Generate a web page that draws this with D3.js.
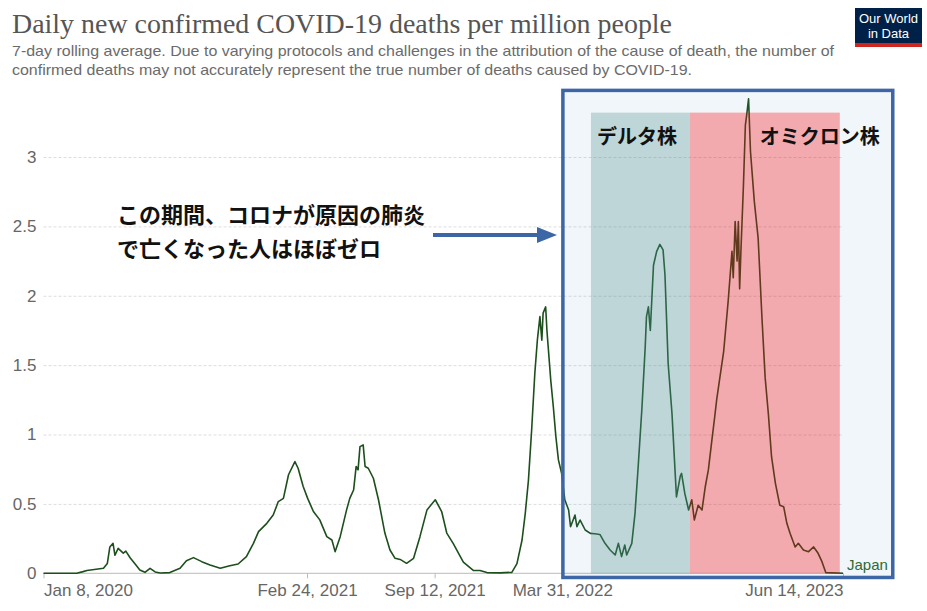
<!DOCTYPE html>
<html>
<head>
<meta charset="utf-8">
<script src="https://cdn.jsdelivr.net/npm/d3@7"></script>
<style>
  body { margin: 0; background: #fff; }
  svg { display: block; }
</style>
</head>
<body>
<div id="chart"></div>
<script>
// daily new confirmed covid-19 deaths per million, japan (7-day average)
const dates = [
  "2020-01-08", "2020-02-29", "2020-03-10", "2020-03-16", "2020-04-11", "2020-04-17",
  "2020-04-21", "2020-04-26", "2020-04-29", "2020-05-04", "2020-05-12", "2020-05-16",
  "2020-05-23", "2020-05-30", "2020-06-07", "2020-06-15", "2020-06-23", "2020-07-01",
  "2020-07-09", "2020-07-24", "2020-08-09", "2020-08-19", "2020-08-30", "2020-09-12",
  "2020-09-25", "2020-10-11", "2020-10-26", "2020-11-08", "2020-11-21", "2020-12-02",
  "2020-12-10", "2020-12-23", "2021-01-02", "2021-01-10", "2021-01-18", "2021-01-26",
  "2021-02-05", "2021-02-10", "2021-02-18", "2021-02-25", "2021-03-06", "2021-03-16",
  "2021-03-27", "2021-04-04", "2021-04-09", "2021-04-17", "2021-04-27", "2021-05-02",
  "2021-05-08", "2021-05-12", "2021-05-15", "2021-05-18", "2021-05-23", "2021-05-26",
  "2021-05-31", "2021-06-08", "2021-06-16", "2021-06-26", "2021-07-04", "2021-07-12",
  "2021-07-20", "2021-07-30", "2021-08-10", "2021-08-20", "2021-08-31", "2021-09-13",
  "2021-09-23", "2021-10-01", "2021-10-11", "2021-10-27", "2021-11-12", "2021-11-22",
  "2021-12-03", "2021-12-24", "2022-01-11", "2022-01-19", "2022-01-27", "2022-02-01",
  "2022-02-06", "2022-02-11", "2022-02-16", "2022-02-20", "2022-02-24", "2022-02-27",
  "2022-03-01", "2022-03-05", "2022-03-07", "2022-03-09", "2022-03-13", "2022-03-17",
  "2022-03-21", "2022-03-25", "2022-03-30", "2022-04-04", "2022-04-10", "2022-04-13",
  "2022-04-20", "2022-04-23", "2022-04-28", "2022-05-06", "2022-05-14", "2022-05-21",
  "2022-05-29", "2022-06-06", "2022-06-14", "2022-06-22", "2022-06-27", "2022-07-02",
  "2022-07-07", "2022-07-10", "2022-07-18", "2022-07-23", "2022-07-28", "2022-08-03",
  "2022-08-08", "2022-08-10", "2022-08-13", "2022-08-16", "2022-08-21", "2022-08-26",
  "2022-08-31", "2022-09-05", "2022-09-08", "2022-09-13", "2022-09-19", "2022-09-24",
  "2022-09-26", "2022-10-02", "2022-10-04", "2022-10-09", "2022-10-15", "2022-10-20",
  "2022-10-24", "2022-10-30", "2022-11-05", "2022-11-10", "2022-11-15", "2022-11-20",
  "2022-11-25", "2022-11-28", "2022-12-03", "2022-12-09", "2022-12-16", "2022-12-22",
  "2022-12-24", "2022-12-27", "2022-12-30", "2023-01-01", "2023-01-03", "2023-01-05",
  "2023-01-09", "2023-01-12", "2023-01-14", "2023-01-17", "2023-01-20", "2023-01-26",
  "2023-02-01", "2023-02-07", "2023-02-12", "2023-02-17", "2023-02-22", "2023-02-28",
  "2023-03-07", "2023-03-13", "2023-03-18", "2023-03-23", "2023-03-31", "2023-04-05",
  "2023-04-13", "2023-04-21", "2023-04-29", "2023-05-06", "2023-05-12", "2023-05-18",
  "2023-06-14"
];
const deaths = [
  0, 0, 0.012, 0.02, 0.036, 0.07,
  0.19, 0.216, 0.13, 0.18, 0.145, 0.16,
  0.11, 0.07, 0.024, 0.007, 0.036, 0.01,
  0.002, 0.005, 0.036, 0.09, 0.113, 0.084,
  0.06, 0.036, 0.055, 0.067, 0.12, 0.216,
  0.30, 0.36, 0.42, 0.517, 0.54, 0.71,
  0.805, 0.757, 0.625, 0.54, 0.445, 0.385,
  0.264, 0.24, 0.156, 0.264, 0.457, 0.54,
  0.60, 0.77, 0.745, 0.913, 0.925, 0.77,
  0.757, 0.685, 0.53, 0.29, 0.168, 0.108,
  0.10, 0.072, 0.108, 0.264, 0.457, 0.53,
  0.445, 0.29, 0.216, 0.08, 0.02, 0.02,
  0.005, 0.003, 0.007, 0.07, 0.24, 0.43,
  0.67, 1.03, 1.44, 1.68, 1.85, 1.68,
  1.875, 1.92, 1.75, 1.63, 1.39, 1.20,
  0.985, 0.817, 0.72, 0.53, 0.456, 0.336,
  0.42, 0.336, 0.384, 0.312, 0.288, 0.285,
  0.28, 0.216, 0.168, 0.132, 0.216, 0.12,
  0.204, 0.132, 0.216, 0.43, 0.77, 1.20,
  1.63, 1.85, 1.92, 1.75, 2.22, 2.32,
  2.37, 2.33, 2.15, 1.51, 1.15, 0.72,
  0.55, 0.70, 0.72, 0.577, 0.456, 0.53,
  0.384, 0.49, 0.456, 0.62, 0.745, 0.94,
  1.13, 1.25, 1.41, 1.60, 1.96, 2.32,
  2.13, 2.535, 2.25, 2.535, 2.05, 2.32,
  2.80, 3.23, 3.30, 3.42, 3.04, 2.68,
  2.415, 1.84, 1.41, 1.15, 0.84, 0.65,
  0.49, 0.48, 0.36, 0.288, 0.19, 0.216,
  0.168, 0.156, 0.19, 0.144, 0.084, 0.005,
  0
];

const yTicks = [0, 0.5, 1, 1.5, 2, 2.5, 3];
const tickDates = ["2020-01-08", "2021-02-24", "2021-09-12", "2022-03-31", "2023-06-14"];
const tickLabels = ["Jan 8, 2020", "Feb 24, 2021", "Sep 12, 2021", "Mar 31, 2022", "Jun 14, 2023"];

// highlighted periods
const variantNames = ["デルタ株", "オミクロン株"];
const variantStart = ["2022-05-15", "2022-10-17"];
const variantEnd = ["2022-10-17", "2023-06-09"];
const noteLines = ["この期間、コロナが原因の肺炎", "で亡くなった人はほぼゼロ"];

const title = "Daily new confirmed COVID-19 deaths per million people";
const subtitle = [
  "7-day rolling average. Due to varying protocols and challenges in the attribution of the cause of death, the number of",
  "confirmed deaths may not accurately represent the true number of deaths caused by COVID-19."
];

var width = 927,
    height = 611;

const parse = d3.timeParse("%Y-%m-%d");
let series = dates.map((d, i) => ({ date: parse(d), value: deaths[i] }));

var x = d3.scaleTime()
    .domain([parse(dates[0]), parse(dates[dates.length - 1])])
    .range([43.5, 843]);

var y = d3.scaleLinear()
    .domain([0, 3])
    .range([573.3, 157]);

var svg = d3.select("#chart").append("svg")
    .attr("width", width)
    .attr("height", height);

// title + subtitle
svg.append("text")
    .attr("x", 12).attr("y", 33)
    .attr("textLength", 660).attr("lengthAdjust", "spacingAndGlyphs")
    .style("font-family", "'Liberation Serif', 'DejaVu Serif', serif")
    .style("font-size", "28px")
    .style("fill", "#555")
    .text(title);

svg.selectAll(".subtitle")
  .data(subtitle)
  .enter().append("text")
    .attr("class", "subtitle")
    .attr("x", 12)
    .attr("y", (d, i) => 56 + i * 19)
    .attr("textLength", (d, i) => i == 0 ? 822 : 680)
    .attr("lengthAdjust", "spacingAndGlyphs")
    .style("font-family", "'Liberation Sans', Arial, sans-serif")
    .style("font-size", "14.5px")
    .style("fill", "#6b6b6b")
    .text(d => d);

// owid logo
var logo = svg.append("g");
logo.append("rect").attr("x", 855).attr("y", 8).attr("width", 67).attr("height", 39).attr("fill", "#002147");
logo.append("rect").attr("x", 855).attr("y", 43).attr("width", 67).attr("height", 4).attr("fill", "#ce261e");
logo.selectAll("text")
  .data(["Our World", "in Data"])
  .enter().append("text")
    .attr("x", 888.5)
    .attr("y", (d, i) => 23 + i * 15)
    .attr("text-anchor", "middle")
    .style("font-family", "'Liberation Sans Narrow', 'Liberation Sans', sans-serif")
    .style("font-size", "13px")
    .style("fill", "#fff")
    .text(d => d);

// y axis with dashed grid
var yAxis = svg.append("g")
    .attr("transform", "translate(" + x.range()[0] + ",0)")
    .call(d3.axisLeft(y)
      .tickValues(yTicks)
      .tickSize(-(x.range()[1] - x.range()[0]))
      .tickPadding(7)
      .tickFormat(d3.format("")));
yAxis.select(".domain").remove();
yAxis.selectAll(".tick line")
    .attr("stroke", "#ddd")
    .attr("stroke-dasharray", "3,2")
    .filter(d => d === 0).remove();
yAxis.selectAll(".tick text")
    .style("font-family", "'Liberation Sans', Arial, sans-serif")
    .style("font-size", "17px")
    .style("fill", "#666");

// x axis
var xAxis = svg.append("g")
    .attr("transform", "translate(0," + y(0) + ")")
    .call(d3.axisBottom(x)
      .tickValues(tickDates.map(parse))
      .tickSize(5)
      .tickPadding(6)
      .tickFormat((d, i) => tickLabels[i]));
xAxis.select(".domain").attr("stroke", "#bbb").attr("d", "M" + x.range()[0] + ",0H" + x.range()[1]);
xAxis.selectAll(".tick line").attr("stroke", "#bbb");
xAxis.selectAll(".tick text")
    .style("font-family", "'Liberation Sans', Arial, sans-serif")
    .style("font-size", "17px")
    .style("fill", "#666")
    .attr("text-anchor", (d, i) => i == 0 ? "start" : (i == tickLabels.length - 1 ? "end" : "middle"));

// the line itself
var line = d3.line()
    .x(d => x(d.date))
    .y(d => y(d.value));

svg.append("path")
    .datum(series)
    .attr("fill", "none")
    .attr("stroke", "#1d4f1d")
    .attr("stroke-width", 1.6)
    .attr("stroke-linejoin", "round")
    .attr("d", line);

svg.append("text")
    .attr("x", x.range()[1] + 4)
    .attr("y", y(0) - 3)
    .style("font-family", "'Liberation Sans', Arial, sans-serif")
    .style("font-size", "15px")
    .style("fill", "#2b6a2b")
    .text("Japan");

// highlight box over the last part, tints drawn on top so the line shows through
var boxLeft = x(parse("2022-04-01")),
    boxRight = x(parse("2023-08-31")),
    boxTop = y(3.48),
    boxBottom = y(-0.03);

var bandLeft = x(parse(variantStart[0])),
    bandRight = x(parse(variantEnd[1])),
    bandTop = y(3.32),
    bandBottom = y(0);

// light box fill with a hole where the variant bands go
svg.append("path")
    .attr("d", "M" + boxLeft + "," + boxTop + "H" + boxRight + "V" + boxBottom + "H" + boxLeft + "Z" +
               "M" + bandLeft + "," + bandTop + "V" + bandBottom + "H" + bandRight + "V" + bandTop + "Z")
    .attr("fill-rule", "evenodd")
    .attr("fill", "rgb(70,130,190)")
    .attr("fill-opacity", 0.075);

svg.selectAll(".variant")
  .data(variantNames)
  .enter().append("rect")
    .attr("class", "variant")
    .attr("x", (d, i) => x(parse(variantStart[i])))
    .attr("y", bandTop)
    .attr("width", (d, i) => x(parse(variantEnd[i])) - x(parse(variantStart[i])))
    .attr("height", bandBottom - bandTop)
    .attr("fill", (d, i) => i == 0 ? "rgb(75,142,148)" : "rgb(219,19,30)")
    .attr("fill-opacity", 0.36);

svg.append("rect")
    .attr("x", boxLeft).attr("y", boxTop)
    .attr("width", boxRight - boxLeft).attr("height", boxBottom - boxTop)
    .attr("fill", "none")
    .attr("stroke", "#3d66a6")
    .attr("stroke-width", 3.5);

svg.selectAll(".variant-label")
  .data(variantNames)
  .enter().append("text")
    .attr("class", "variant-label")
    .attr("x", (d, i) => i == 0 ? x(parse(variantStart[i])) + 6 : boxRight - 13)
    .attr("y", 144)
    .attr("text-anchor", (d, i) => i == 0 ? "start" : "end")
    .style("font-family", "'Noto Sans CJK JP', sans-serif")
    .style("font-weight", "bold")
    .style("font-size", "20px")
    .style("fill", "#111")
    .text(d => d);

// note + arrow pointing at the box
svg.selectAll(".note")
  .data(noteLines)
  .enter().append("text")
    .attr("class", "note")
    .attr("x", 117)
    .attr("y", (d, i) => 223 + i * 34)
    .style("font-family", "'Noto Sans CJK JP', sans-serif")
    .style("font-weight", "bold")
    .style("font-size", "22px")
    .style("fill", "#111")
    .text(d => d);

svg.append("line")
    .attr("x1", 433).attr("y1", 235)
    .attr("x2", 540).attr("y2", 235)
    .attr("stroke", "#3d66a6")
    .attr("stroke-width", 4);
svg.append("path")
    .attr("d", "M537,227L557,235L537,243Z")
    .attr("fill", "#3d66a6");
</script>
</body>
</html>
